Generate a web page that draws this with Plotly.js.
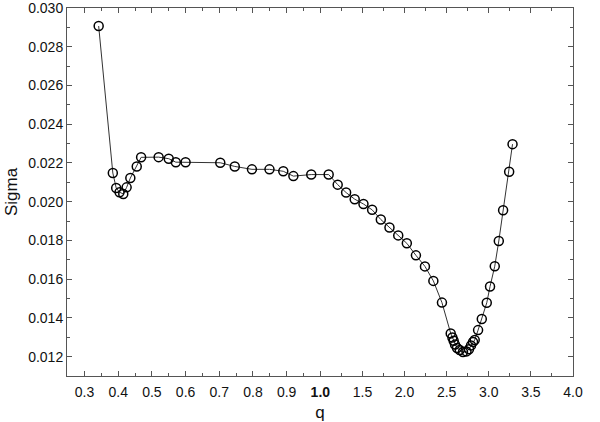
<!DOCTYPE html>
<html>
<head>
<meta charset="utf-8">
<script src="https://cdn.plot.ly/plotly-3.0.1.min.js"></script>
<style>
  html, body { margin: 0; padding: 0; background: #fff; }
  #chart { width: 600px; height: 422px; }
</style>
</head>
<body>
<div id="chart"></div>
<script>
// Data
var q = [0.342, 0.384, 0.394, 0.404, 0.415, 0.425, 0.436, 0.455, 0.468, 0.52,
         0.55, 0.571, 0.60, 0.703, 0.746, 0.797, 0.849, 0.89, 0.92, 0.973,
         1.099, 1.206, 1.306, 1.408, 1.512, 1.615, 1.718, 1.821, 1.925, 2.027,
         2.135, 2.242, 2.342, 2.444, 2.548, 2.568, 2.583, 2.599, 2.623, 2.655,
         2.694, 2.735, 2.765, 2.789, 2.813, 2.833, 2.873, 2.917, 2.976, 3.015,
         3.071, 3.119, 3.170, 3.242, 3.282];
var sigma = [0.02907, 0.02148, 0.02071, 0.02049, 0.0204, 0.02074, 0.02122, 0.02182, 0.02229, 0.0223,
             0.02222, 0.02204, 0.02204, 0.02201, 0.02182, 0.02167, 0.02167, 0.02157, 0.02132, 0.0214,
             0.0214, 0.02088, 0.02047, 0.02013, 0.01988, 0.01958, 0.01908, 0.01867, 0.01826, 0.01785,
             0.01723, 0.01666, 0.01591, 0.01479, 0.0132, 0.01299, 0.01282, 0.01262, 0.01245, 0.01234,
             0.01224, 0.01227, 0.01238, 0.01258, 0.01276, 0.01286, 0.01337, 0.01394, 0.01478, 0.01562,
             0.01667, 0.01797, 0.01956, 0.02155, 0.02297];

var xTickValues = [0.3, 0.4, 0.5, 0.6, 0.7, 0.8, 0.9, 1.0, 1.5, 2.0, 2.5, 3.0, 3.5, 4.0];
var xTickLabels = ['0.3', '0.4', '0.5', '0.6', '0.7', '0.8', '0.9', '<b>1.0</b>', '1.5', '2.0', '2.5', '3.0', '3.5', '4.0'];
var xMinorValues = [0.35, 0.45, 0.55, 0.65, 0.75, 0.85, 0.95, 1.25, 1.75, 2.25, 2.75, 3.25, 3.75];
var yTickValues = [0.012, 0.014, 0.016, 0.018, 0.020, 0.022, 0.024, 0.026, 0.028, 0.030];
var yTickLabels = ['0.012', '0.014', '0.016', '0.018', '0.020', '0.022', '0.024', '0.026', '0.028', '0.030'];
var yMinorValues = [0.011, 0.013, 0.015, 0.017, 0.019, 0.021, 0.023, 0.025, 0.027, 0.029];

// Broken (piecewise linear) q axis: below 1.0 one scale, above 1.0 compressed 4x
function brk(v) { return v <= 1 ? v : 1 + (v - 1) / 4; }

var trace = {
  x: q.map(brk),
  y: sigma,
  type: 'scatter',
  mode: 'lines+markers',
  line: { color: '#333333', width: 1 },
  marker: { symbol: 'circle-open', size: 9, color: '#000000', line: { width: 1.5, color: '#000000' } },
  hoverinfo: 'skip'
};

var fam = 'Liberation Sans, Arial, sans-serif';
var tickFont = { family: fam, size: 14, color: '#111' };

var layout = {
  width: 600, height: 422,
  margin: { l: 67, r: 27, t: 8, b: 46 },
  paper_bgcolor: '#fff', plot_bgcolor: '#fff',
  showlegend: false,
  font: tickFont,
  xaxis: {
    range: [0.248, brk(4.0)],
    tickmode: 'array',
    tickvals: xTickValues.map(brk),
    ticktext: xTickLabels,
    ticks: 'inside', ticklen: 5, tickwidth: 1, tickcolor: '#555',
    minor: { tickmode: 'array', tickvals: xMinorValues.map(brk), ticks: 'inside', ticklen: 3, tickwidth: 1, tickcolor: '#555' },
    showline: true, linecolor: '#555', linewidth: 1, mirror: 'allticks',
    showgrid: false, zeroline: false,
    tickfont: tickFont,
    ticklabelstandoff: 3,
    ticklabeloverflow: 'allow',
    title: { text: 'q', font: { family: fam, size: 17, color: '#111' }, standoff: 9 }
  },
  yaxis: {
    range: [0.011, 0.0300002],
    tickmode: 'array',
    tickvals: yTickValues,
    ticktext: yTickLabels,
    ticks: 'inside', ticklen: 5, tickwidth: 1, tickcolor: '#555',
    minor: { tickmode: 'array', tickvals: yMinorValues, ticks: 'inside', ticklen: 3, tickwidth: 1, tickcolor: '#555' },
    showline: true, linecolor: '#555', linewidth: 1, mirror: 'allticks',
    showgrid: false, zeroline: false,
    tickfont: tickFont,
    ticklabeloverflow: 'allow',
    title: { text: 'Sigma', font: { family: fam, size: 17, color: '#111' }, standoff: 6 }
  }
};

Plotly.newPlot('chart', [trace], layout, { displayModeBar: false, staticPlot: true });
</script>
</body>
</html>
